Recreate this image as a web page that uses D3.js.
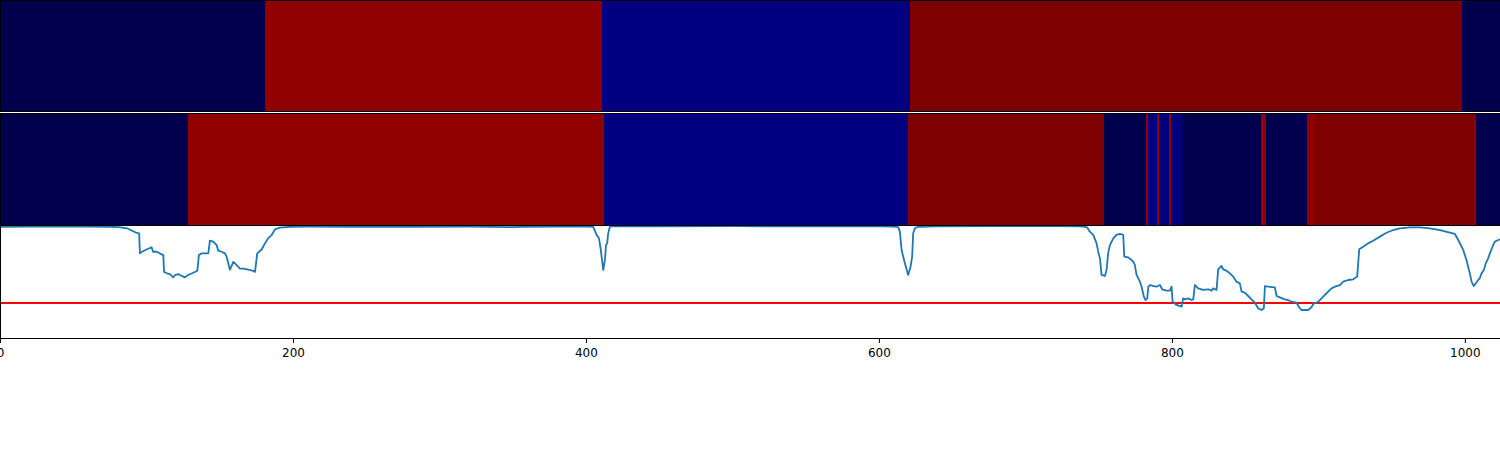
<!DOCTYPE html>
<html>
<head>
<meta charset="utf-8">
<script src="https://cdn.jsdelivr.net/npm/d3@7"></script>
<style>
  html, body { margin: 0; padding: 0; background: #fff; }
  svg { display: block; }
  text { font-family: "DejaVu Sans", sans-serif; }
</style>
</head>
<body>
<div id="chart"></div>
<script>
// ---------- data ----------
const xDomain = [0, 1024];
const classColors = ["#00004c", "#000080", "#900000", "#7f0000"]; // 0 navy, 1 blue, 2 red, 3 dark red

// row 1 segments (boundaries + class of each segment)
const row1Breaks = [0, 181, 411, 621, 998, 1024];
const row1Classes = [0, 2, 1, 3, 0];

// row 2 segments
const row2Breaks = [0, 128, 412, 620, 754, 782, 783.5, 790, 791.3, 798, 799.3, 807, 861, 864, 892, 897.5, 1006, 1007.5, 1024];
const row2Classes = [0, 2, 1, 3, 0, 2, 1, 2, 1, 2, 1, 0, 2, 0, 2, 3, 2, 0];

// line series
const lineX = [0, 20, 40, 60, 75, 81, 87, 93, 95, 95.5, 97, 100, 103.5, 104.5, 107, 109, 111.5, 112, 114, 116, 118.3, 119.5, 121.7, 124, 126.3, 128.5, 132, 134.7, 135.8, 137.7, 142.2, 143.3, 145.6, 147.9, 149, 151.3, 153.6, 154.7, 157, 159.3, 161.6, 163.8, 166.1, 169.5, 172.9, 174.1, 175.6, 178.6, 180.9, 183.1, 185.5, 187.7, 191, 198, 210, 240, 280, 320, 350, 355, 380, 400, 405, 407.3, 408.9, 410, 410.7, 411.8, 413, 413.7, 414.5, 415.2, 416.4, 419, 450, 500, 550, 600, 609.8, 613.2, 614.3, 615.5, 616.6, 618.4, 620, 621.6, 622.7, 623.4, 624.6, 626.8, 640, 680, 720, 737, 739.5, 742.2, 744, 746.3, 748.6, 749.7, 750.9, 752, 754.3, 755.4, 756.5, 757.7, 760, 762.2, 764.5, 766.8, 767.5, 770.2, 772.5, 773.6, 774.7, 775.9, 778.2, 779.3, 780.9, 782, 783.2, 783.9, 785, 787.7, 789.5, 791.8, 793.4, 796.4, 798.6, 799.8, 800.5, 803.2, 806.6, 807.7, 808.9, 811.2, 813.4, 814.6, 815.7, 818, 821.4, 824.8, 827.1, 828.2, 830.5, 831.6, 833.9, 835, 837.3, 839.6, 841.9, 844.1, 846.4, 847.6, 849.8, 852.1, 854.4, 856.7, 858.9, 861.2, 862.8, 863.5, 865.8, 870.3, 871.5, 873.7, 877.1, 879.4, 881.7, 885.1, 886.9, 888.5, 893, 895.3, 896.5, 899.9, 902.2, 904.4, 906.7, 909, 911.3, 914.7, 917, 920.4, 923.8, 926.5, 927.9, 930.6, 934, 937.4, 942, 946.5, 951.1, 955.6, 962.5, 969.3, 976.1, 983, 989.8, 993.2, 995.5, 998.9, 1001.1, 1003.4, 1004.6, 1006.1, 1007.5, 1009.1, 1010.2, 1011.4, 1013, 1014.3, 1015.9, 1017.1, 1018.9, 1020.5, 1022.8, 1023.9];
const lineY = [0.993, 0.995, 0.995, 0.994, 0.993, 0.99, 0.978, 0.94, 0.935, 0.756, 0.77, 0.79, 0.81, 0.77, 0.77, 0.756, 0.74, 0.59, 0.578, 0.571, 0.542, 0.562, 0.571, 0.554, 0.542, 0.562, 0.583, 0.60, 0.74, 0.756, 0.756, 0.87, 0.86, 0.83, 0.78, 0.77, 0.756, 0.726, 0.61, 0.68, 0.65, 0.62, 0.62, 0.61, 0.60, 0.59, 0.756, 0.79, 0.845, 0.89, 0.92, 0.97, 0.985, 0.993, 0.995, 0.993, 0.992, 0.994, 0.99, 0.993, 0.995, 0.994, 0.993, 0.92, 0.89, 0.80, 0.726, 0.607, 0.70, 0.83, 0.845, 0.935, 0.995, 0.998, 0.997, 0.998, 0.997, 0.996, 0.995, 0.99, 0.95, 0.786, 0.726, 0.637, 0.5625, 0.637, 0.726, 0.935, 0.98, 0.993, 0.997, 0.998, 0.998, 0.997, 0.995, 0.988, 0.949, 0.92, 0.845, 0.771, 0.711, 0.563, 0.554, 0.607, 0.756, 0.83, 0.89, 0.92, 0.929, 0.92, 0.726, 0.72, 0.696, 0.682, 0.652, 0.563, 0.503, 0.458, 0.369, 0.339, 0.354, 0.458, 0.473, 0.464, 0.458, 0.473, 0.435, 0.423, 0.423, 0.458, 0.324, 0.295, 0.28, 0.354, 0.345, 0.354, 0.339, 0.345, 0.473, 0.443, 0.429, 0.435, 0.423, 0.443, 0.429, 0.613, 0.643, 0.613, 0.601, 0.577, 0.548, 0.503, 0.488, 0.414, 0.405, 0.375, 0.345, 0.315, 0.265, 0.25, 0.265, 0.464, 0.458, 0.452, 0.375, 0.363, 0.345, 0.339, 0.324, 0.315, 0.274, 0.25, 0.25, 0.274, 0.304, 0.324, 0.354, 0.384, 0.414, 0.443, 0.458, 0.473, 0.503, 0.518, 0.524, 0.548, 0.792, 0.815, 0.845, 0.869, 0.905, 0.94, 0.964, 0.979, 0.988, 0.988, 0.979, 0.964, 0.94, 0.929, 0.875, 0.786, 0.696, 0.577, 0.503, 0.464, 0.488, 0.518, 0.533, 0.577, 0.607, 0.667, 0.711, 0.756, 0.815, 0.86, 0.875, 0.881];

const threshold = 0.3125;
const yDomain = [0, 1];
const xTicks = [0, 200, 400, 600, 800, 1000];

// ---------- drawing ----------
const W = 1500, H = 450;
const panelTops = [0, 113, 226];
const panelH = 112;

const svg = d3.select("#chart").append("svg")
  .attr("width", W).attr("height", H)
  .style("background", "#fff");

const x = d3.scaleLinear().domain(xDomain).range([0, W]);

function drawRow(breaks, classes, top, h) {
  const segs = classes.map((c, i) => ({ s: breaks[i], e: breaks[i + 1], c }));
  const g = svg.append("g");
  g.selectAll("rect").data(segs).join("rect")
    .attr("x", d => x(d.s))
    .attr("width", d => x(d.e) - x(d.s))
    .attr("y", top)
    .attr("height", h)
    .attr("fill", d => classColors[d.c])
    .attr("shape-rendering", "crispEdges");
}
drawRow(row1Breaks, row1Classes, 0, 112);
drawRow(row2Breaks, row2Classes, 113, 113);

// line panel
const top3 = panelTops[2];
const y = d3.scaleLinear().domain(yDomain).range([top3 + panelH, top3]);

svg.append("clipPath").attr("id", "clip3")
  .append("rect").attr("x", 0).attr("y", top3).attr("width", W).attr("height", panelH);

const g3 = svg.append("g").attr("clip-path", "url(#clip3)");
g3.append("line")
  .attr("x1", x(xDomain[0])).attr("x2", x(xDomain[1]))
  .attr("y1", y(threshold)).attr("y2", y(threshold))
  .attr("stroke", "#ff0000").attr("stroke-width", 1.8);

const pts = lineX.map((v, i) => [v, lineY[i]]);
g3.append("path")
  .datum(pts)
  .attr("fill", "none")
  .attr("stroke", "#1f77b4")
  .attr("stroke-width", 1.8)
  .attr("stroke-linejoin", "round")
  .attr("d", d3.line().x(d => x(d[0])).y(d => y(d[1])));

// frames (spines)
const spine = (x1, y1, x2, y2, col) => svg.append("line")
  .attr("x1", x1).attr("y1", y1).attr("x2", x2).attr("y2", y2)
  .attr("stroke", col || "#000").attr("stroke-width", 1)
  .attr("shape-rendering", "crispEdges");
spine(0, 0.5, W, 0.5);          // top of panel 1
spine(0, 111.5, W, 111.5);      // bottom of panel 1
spine(0, 112.5, W, 112.5, "#fff"); // white gap
spine(0, 113.5, W, 113.5);      // top of panel 2
spine(0, 225.5, W, 225.5);      // panel 2 / panel 3 boundary
spine(0, 338.5, W, 338.5);      // bottom of panel 3
spine(0.5, 0, 0.5, 112);
spine(0.5, 113, 0.5, 339);

// bottom axis
const axis = d3.axisBottom(x).tickValues(xTicks).tickFormat(d3.format("d"))
  .tickSize(4.5).tickPadding(5).tickSizeOuter(0);
const ax = svg.append("g").attr("transform", `translate(0,${top3 + panelH + 0.5})`).call(axis);
ax.select(".domain").remove();
ax.selectAll(".tick line").attr("stroke", "#000");
ax.selectAll(".tick text")
  .attr("font-family", "DejaVu Sans, sans-serif")
  .attr("font-size", 12)
  .attr("fill", "#000");
</script>
</body>
</html>
